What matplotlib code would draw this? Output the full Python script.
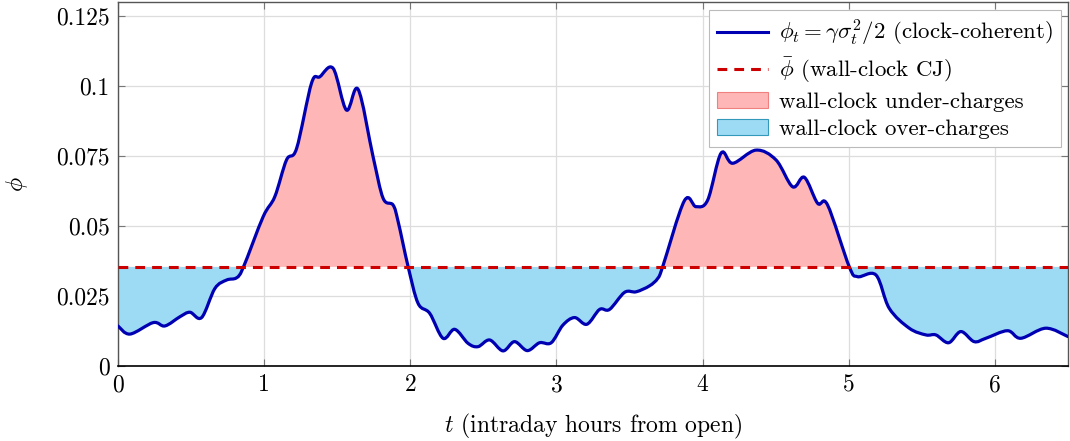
import matplotlib
matplotlib.use("Agg")
import matplotlib.pyplot as plt
import numpy as np
from matplotlib.patches import Patch, PathPatch, Rectangle
from matplotlib.lines import Line2D
from matplotlib.path import Path

# Data
t = [0.0, 0.082, 0.241, 0.321, 0.424, 0.492, 0.572, 0.663, 0.743, 0.811, 0.857,
     0.993, 1.073, 1.153, 1.222, 1.324, 1.381, 1.472, 1.563, 1.643, 1.745, 1.814,
     1.882, 1.917, 1.985, 2.053, 2.133, 2.224, 2.304, 2.395, 2.463, 2.543, 2.634,
     2.713, 2.8, 2.884, 2.964, 3.044, 3.124, 3.208, 3.295, 3.363, 3.466, 3.545,
     3.636, 3.693, 3.727, 3.875, 3.955, 4.035, 4.126, 4.206, 4.365, 4.502, 4.616,
     4.696, 4.787, 4.855, 5.003, 5.06, 5.186, 5.277, 5.414, 5.528, 5.596, 5.683,
     5.767, 5.858, 5.938, 6.086, 6.177, 6.348, 6.5]
phi = [0.0143, 0.0114, 0.0155, 0.0143, 0.0176, 0.0192, 0.0173, 0.0277, 0.0307, 0.0315, 0.0352,
       0.0533, 0.0605, 0.0736, 0.0777, 0.101, 0.1033, 0.1063, 0.0914, 0.0988, 0.0748, 0.0599,
       0.0575, 0.0515, 0.0355, 0.0224, 0.0188, 0.0099, 0.0131, 0.0081, 0.0069, 0.0093, 0.0054,
       0.0087, 0.0055, 0.0083, 0.0083, 0.0146, 0.0173, 0.0149, 0.0202, 0.0202, 0.0263, 0.0265,
       0.0286, 0.0313, 0.0355, 0.0590, 0.0569, 0.0593, 0.0760, 0.0724, 0.0771, 0.0736, 0.0640,
       0.0674, 0.0581, 0.0575, 0.0355, 0.0319, 0.0325, 0.0206, 0.0135, 0.0111, 0.0111, 0.0083,
       0.0123, 0.0087, 0.0099, 0.0126, 0.0099, 0.0135, 0.0105]
phi_bar = 0.0354
xticks = [0, 1, 2, 3, 4, 5, 6]
yticks = [0, 0.025, 0.05, 0.075, 0.1, 0.125]
ytick_labels = ["0", "0.025", "0.05", "0.075", "0.1", "0.125"]

plt.rcParams['font.family'] = 'cmr10'
plt.rcParams['mathtext.fontset'] = 'cm'
plt.rcParams['axes.unicode_minus'] = False
plt.rcParams['font.size'] = 17

line_col = '#0000B3'
red_col = '#CC0000'
pink = '#FFB6B6'
blue = '#9DDBF5'


def smooth_path_verts(x, y):
    """Bezier (Catmull-Rom style) drawing of the polyline through the points."""
    P = np.column_stack([x, y])
    n = len(P)
    verts = [P[0]]
    codes = [Path.MOVETO]
    for i in range(n - 1):
        p0 = P[i - 1] if i > 0 else P[i]
        p1 = P[i]
        p2 = P[i + 1]
        p3 = P[i + 2] if i + 2 < n else P[i + 1]
        c1 = p1 + (p2 - p0) / 6.0
        c2 = p2 - (p3 - p1) / 6.0
        verts += [c1, c2, p2]
        codes += [Path.CURVE4] * 3
    return verts, codes


fig = plt.figure(figsize=(10.70, 4.41), dpi=100)
ax = fig.add_axes([118/1070, 1-366/441, (1068-118)/1070, (366-2)/441])

ax.set_xlim(0, 6.5)
ax.set_ylim(0, 0.13)

verts, codes = smooth_path_verts(t, phi)
curve = Path(verts, codes)

# Closed region between the curve and the mean line
fv = list(verts) + [(t[-1], phi_bar), (t[0], phi_bar), (t[0], phi[0])]
fc = list(codes) + [Path.LINETO, Path.LINETO, Path.CLOSEPOLY]
region = Path(fv, fc)

upper = Rectangle((0, phi_bar), 6.5, 1, transform=ax.transData)
lower = Rectangle((0, -1), 6.5, 1 + phi_bar, transform=ax.transData)
p_up = PathPatch(region, facecolor=pink, edgecolor='none', zorder=1)
p_lo = PathPatch(region, facecolor=blue, edgecolor='none', zorder=1)
ax.add_patch(p_up)
ax.add_patch(p_lo)
p_up.set_clip_path(upper)
p_lo.set_clip_path(lower)

ax.add_patch(PathPatch(curve, facecolor='none', edgecolor=line_col, lw=2.3,
                       joinstyle='round', capstyle='round', zorder=3))
ax.axhline(phi_bar, color=red_col, lw=2.2, dashes=(3.2, 2.3), zorder=4)

ax.set_xticks(xticks)
ax.set_yticks(yticks)
ax.set_yticklabels(ytick_labels)
ax.grid(True, color='#DDDDDD', lw=0.9, zorder=0)
ax.set_axisbelow(True)
ax.tick_params(direction='in', length=5, width=0.8, color='#777777',
               top=True, right=True, labelsize=17, pad=6)
for s in ['left', 'top', 'right']:
    ax.spines[s].set_color('#555555')
    ax.spines[s].set_linewidth(1.0)
ax.spines['bottom'].set_color('black')
ax.spines['bottom'].set_linewidth(1.2)

ax.set_xlabel(r'$t$ (intraday hours from open)', fontsize=17, labelpad=11)
ax.set_ylabel(r'$\phi$', fontsize=17, labelpad=19)

handles = [
    Line2D([], [], color=line_col, lw=2.2),
    Line2D([], [], color=red_col, lw=2.2, dashes=(3.2, 2.3)),
    Patch(facecolor=pink, edgecolor='#F08080', lw=0.8),
    Patch(facecolor=blue, edgecolor='#3399BB', lw=0.8),
]
labels = [r'$\phi_t = \gamma\sigma_t^2/2$ (clock-coherent)',
          r'$\bar{\phi}$ (wall-clock CJ)',
          'wall-clock under-charges',
          'wall-clock over-charges']
leg = ax.legend(handles, labels, loc='upper right', fontsize=16.5,
                bbox_to_anchor=(1 - 7/950, 1 - 8/364), borderaxespad=0,
                fancybox=False, edgecolor='#BBBBBB', framealpha=1,
                handlelength=2.2, handletextpad=0.5, labelspacing=0.3,
                borderpad=0.35)
leg.get_frame().set_linewidth(0.8)

fig.savefig('out.png', dpi=100)
